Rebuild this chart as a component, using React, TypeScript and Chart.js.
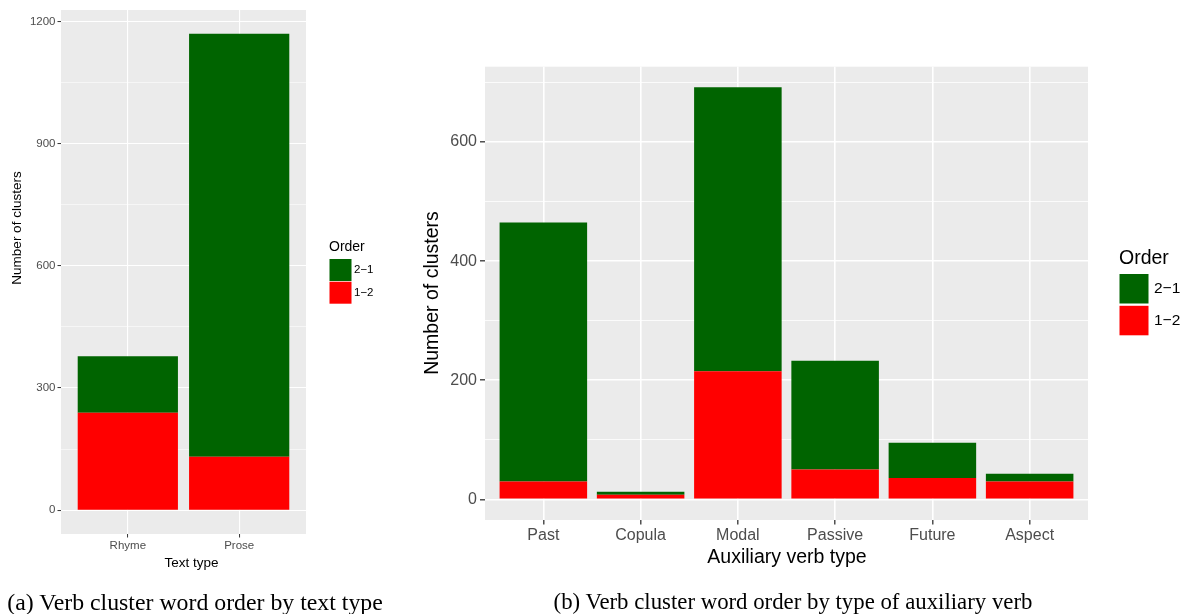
import React, { useEffect, useRef } from "react";
import { Chart, registerables } from "chart.js";

Chart.register(...registerables);

const FONT = "'Liberation Sans', Arial, Helvetica, sans-serif";
const SERIF = "'Liberation Serif', 'Times New Roman', Times, serif";
const W = 1184;
const H = 614;

// ---- Data: (a) by text type ----
const textTypes = ["Rhyme", "Prose"];
const textOrder21 = [139, 1039];
const textOrder12 = [239, 131];
const textMajorTicks = [0, 300, 600, 900, 1200];
const textMinorTicks = [150, 450, 750, 1050];

// ---- Data: (b) by auxiliary verb type ----
const auxTypes = ["Past", "Copula", "Modal", "Passive", "Future", "Aspect"];
const auxOrder21 = [435, 5, 477, 183, 59, 13];
const auxOrder12 = [30, 8, 215, 50, 36, 30];
const auxMajorTicks = [0, 200, 400, 600];
const auxMinorTicks = [100, 300, 500, 700];

const orderLabels = ["2\u22121", "1\u22122"];
const orderColors = ["#006400", "#FF0000"];

interface Spec {
  categories: string[];
  order21: number[];
  order12: number[];
  major: number[];
  minor: number[];
  area: { left: number; top: number; right: number; bottom: number };
  tickFont: number;
  titleFont: number;
  yTickLen: number;
  xTickLen: number;
  yTickPad: number;
  xTickPad: number;
  majorW: number;
  minorW: number;
  tickW: number;
  xTitle: { text: string; x: number; y: number };
  yTitle: { text: string; x: number; y: number };
  legend: {
    x: number;
    titleY: number;
    titleFont: number;
    keyTop: number;
    keyW: number;
    keyH: number;
    keyStep: number;
    labelX: number;
    labelFont: number;
  };
}

const specA: Spec = {
  categories: textTypes,
  order21: textOrder21,
  order12: textOrder12,
  major: textMajorTicks,
  minor: textMinorTicks,
  area: { left: 61, top: 10, right: 306, bottom: 534 },
  tickFont: 11.5,
  titleFont: 13.5,
  yTickLen: 3.5,
  xTickLen: 3.5,
  yTickPad: 2,
  xTickPad: 1,
  majorW: 1.1,
  minorW: 0.55,
  tickW: 1,
  xTitle: { text: "Text type", x: 191.5, y: 563 },
  yTitle: { text: "Number of clusters", x: 17, y: 228 },
  legend: {
    x: 329,
    titleY: 247,
    titleFont: 14,
    keyTop: 259,
    keyW: 22,
    keyH: 22,
    keyStep: 22.7,
    labelX: 354,
    labelFont: 11.5,
  },
};

const specB: Spec = {
  categories: auxTypes,
  order21: auxOrder21,
  order12: auxOrder12,
  major: auxMajorTicks,
  minor: auxMinorTicks,
  area: { left: 485, top: 66.7, right: 1088, bottom: 520 },
  tickFont: 16,
  titleFont: 19.5,
  yTickLen: 5,
  xTickLen: 4.5,
  yTickPad: 3,
  xTickPad: 1,
  majorW: 1.6,
  minorW: 0.8,
  tickW: 1.3,
  xTitle: { text: "Auxiliary verb type", x: 787, y: 558 },
  yTitle: { text: "Number of clusters", x: 433, y: 293 },
  legend: {
    x: 1119,
    titleY: 259,
    titleFont: 19.5,
    keyTop: 274,
    keyW: 29,
    keyH: 29.5,
    keyStep: 31.8,
    labelX: 1154,
    labelFont: 15.5,
  },
};

function buildChart(canvas: HTMLCanvasElement, s: Spec): Chart {
  const isMajor = (v: number) => s.major.includes(v);
  const yTicks = [...s.major, ...s.minor].sort((a, b) => a - b);
  const totals = s.order21.map((v, i) => v + s.order12[i]);
  const top = Math.max(...totals);
  const pad = top * 0.05;
  const n = s.categories.length;
  const xTicks = s.categories.map((_, i) => i + 1);

  const panelPlugin = {
    id: "panelBg" + n,
    beforeDraw(chart: any) {
      const { ctx, chartArea } = chart;
      ctx.save();
      ctx.fillStyle = "#EBEBEB";
      ctx.fillRect(chartArea.left, chartArea.top, chartArea.right - chartArea.left, chartArea.bottom - chartArea.top);
      ctx.restore();
    },
    afterDraw(chart: any) {
      const ctx = chart.ctx as CanvasRenderingContext2D;
      ctx.save();
      ctx.fillStyle = "#000000";
      ctx.textBaseline = "middle";
      ctx.textAlign = "center";
      ctx.font = `${s.titleFont}px ${FONT}`;
      ctx.fillText(s.xTitle.text, s.xTitle.x, s.xTitle.y);
      ctx.save();
      ctx.translate(s.yTitle.x, s.yTitle.y);
      ctx.rotate(-Math.PI / 2);
      ctx.fillText(s.yTitle.text, 0, 0);
      ctx.restore();

      // legend
      const L = s.legend;
      ctx.textAlign = "left";
      ctx.font = `${L.titleFont}px ${FONT}`;
      ctx.fillText("Order", L.x, L.titleY);
      const ds = chart.data.datasets.slice().reverse();
      ds.forEach((d: any, i: number) => {
        const y = L.keyTop + i * L.keyStep;
        ctx.fillStyle = d.backgroundColor;
        ctx.fillRect(L.x + 0.5, y, L.keyW, L.keyH);
        ctx.fillStyle = "#000000";
        ctx.font = `${L.labelFont}px ${FONT}`;
        ctx.fillText(d.label, L.labelX, y + L.keyH / 2);
      });
      ctx.restore();
    },
  };

  return new Chart(canvas, {
    type: "bar",
    data: {
      datasets: [
        {
          label: orderLabels[1],
          data: s.order12.map((v, i) => ({ x: i + 1, y: v })),
          backgroundColor: orderColors[1],
          borderWidth: 0,
        },
        {
          label: orderLabels[0],
          data: s.order21.map((v, i) => ({ x: i + 1, y: v })),
          backgroundColor: orderColors[0],
          borderWidth: 0,
        },
      ],
    } as any,
    options: {
      responsive: false,
      animation: false,
      devicePixelRatio: 1,
      events: [],
      barPercentage: 0.9,
      categoryPercentage: 1,
      layout: {
        padding: { left: 0, top: s.area.top, right: W - s.area.right, bottom: 0 },
      },
      plugins: {
        legend: { display: false },
        tooltip: { enabled: false },
        title: { display: false },
      },
      scales: {
        x: {
          type: "linear",
          stacked: true,
          offset: false,
          min: 0.4,
          max: n + 0.6,
          afterFit: (scale: any) => {
            scale.height = H - s.area.bottom;
          },
          afterBuildTicks: (scale: any) => {
            scale.ticks = xTicks.map((v) => ({ value: v }));
          },
          ticks: {
            autoSkip: false,
            maxRotation: 0,
            minRotation: 0,
            padding: s.xTickPad,
            color: "#4D4D4D",
            font: { family: FONT, size: s.tickFont },
            callback: (value: any) => s.categories[Math.round(Number(value)) - 1] ?? "",
          },
          grid: {
            offset: false,
            color: "#FFFFFF",
            lineWidth: s.majorW,
            drawTicks: true,
            tickLength: s.xTickLen,
            tickColor: "#333333",
            tickWidth: s.tickW,
          },
          border: { display: false },
        },
        y: {
          type: "linear",
          stacked: true,
          min: -pad,
          max: top + pad,
          afterFit: (scale: any) => {
            scale.width = s.area.left;
          },
          afterBuildTicks: (scale: any) => {
            scale.ticks = yTicks.map((v) => ({ value: v }));
          },
          ticks: {
            autoSkip: false,
            padding: s.yTickPad,
            color: "#4D4D4D",
            font: { family: FONT, size: s.tickFont },
            callback: (value: any) => (isMajor(Number(value)) ? String(value) : ""),
          },
          grid: {
            color: "#FFFFFF",
            lineWidth: (ctx: any) => (ctx.tick && isMajor(ctx.tick.value) ? s.majorW : s.minorW),
            drawTicks: true,
            tickLength: s.yTickLen,
            tickColor: (ctx: any) => (ctx.tick && isMajor(ctx.tick.value) ? "#333333" : "rgba(0,0,0,0)"),
            tickWidth: s.tickW,
          },
          border: { display: false },
        },
      },
    } as any,
    plugins: [panelPlugin],
  });
}

function ChartCanvas({ spec }: { spec: Spec }) {
  const ref = useRef<HTMLCanvasElement | null>(null);
  useEffect(() => {
    if (!ref.current) return;
    const chart = buildChart(ref.current, spec);
    return () => chart.destroy();
  }, [spec]);
  return (
    <canvas
      ref={ref}
      width={W}
      height={H}
      style={{ position: "absolute", left: 0, top: 0, width: W, height: H }}
    />
  );
}

const captionStyle: React.CSSProperties = {
  position: "absolute",
  fontFamily: SERIF,
  lineHeight: "24px",
  color: "#000",
  whiteSpace: "nowrap",
  textAlign: "center",
};

export default function App() {
  return (
    <div style={{ position: "absolute", left: 0, top: 0, width: W, height: H, background: "#FFFFFF", overflow: "hidden" }}>
      <ChartCanvas spec={specA} />
      <ChartCanvas spec={specB} />
      <div style={{ ...captionStyle, fontSize: 23.8, left: 0, width: 390, top: 590 }}>
        (a) Verb cluster word order by text type
      </div>
      <div style={{ ...captionStyle, fontSize: 22.8, left: 493, width: 600, top: 590 }}>
        (b) Verb cluster word order by type of auxiliary verb
      </div>
    </div>
  );
}
